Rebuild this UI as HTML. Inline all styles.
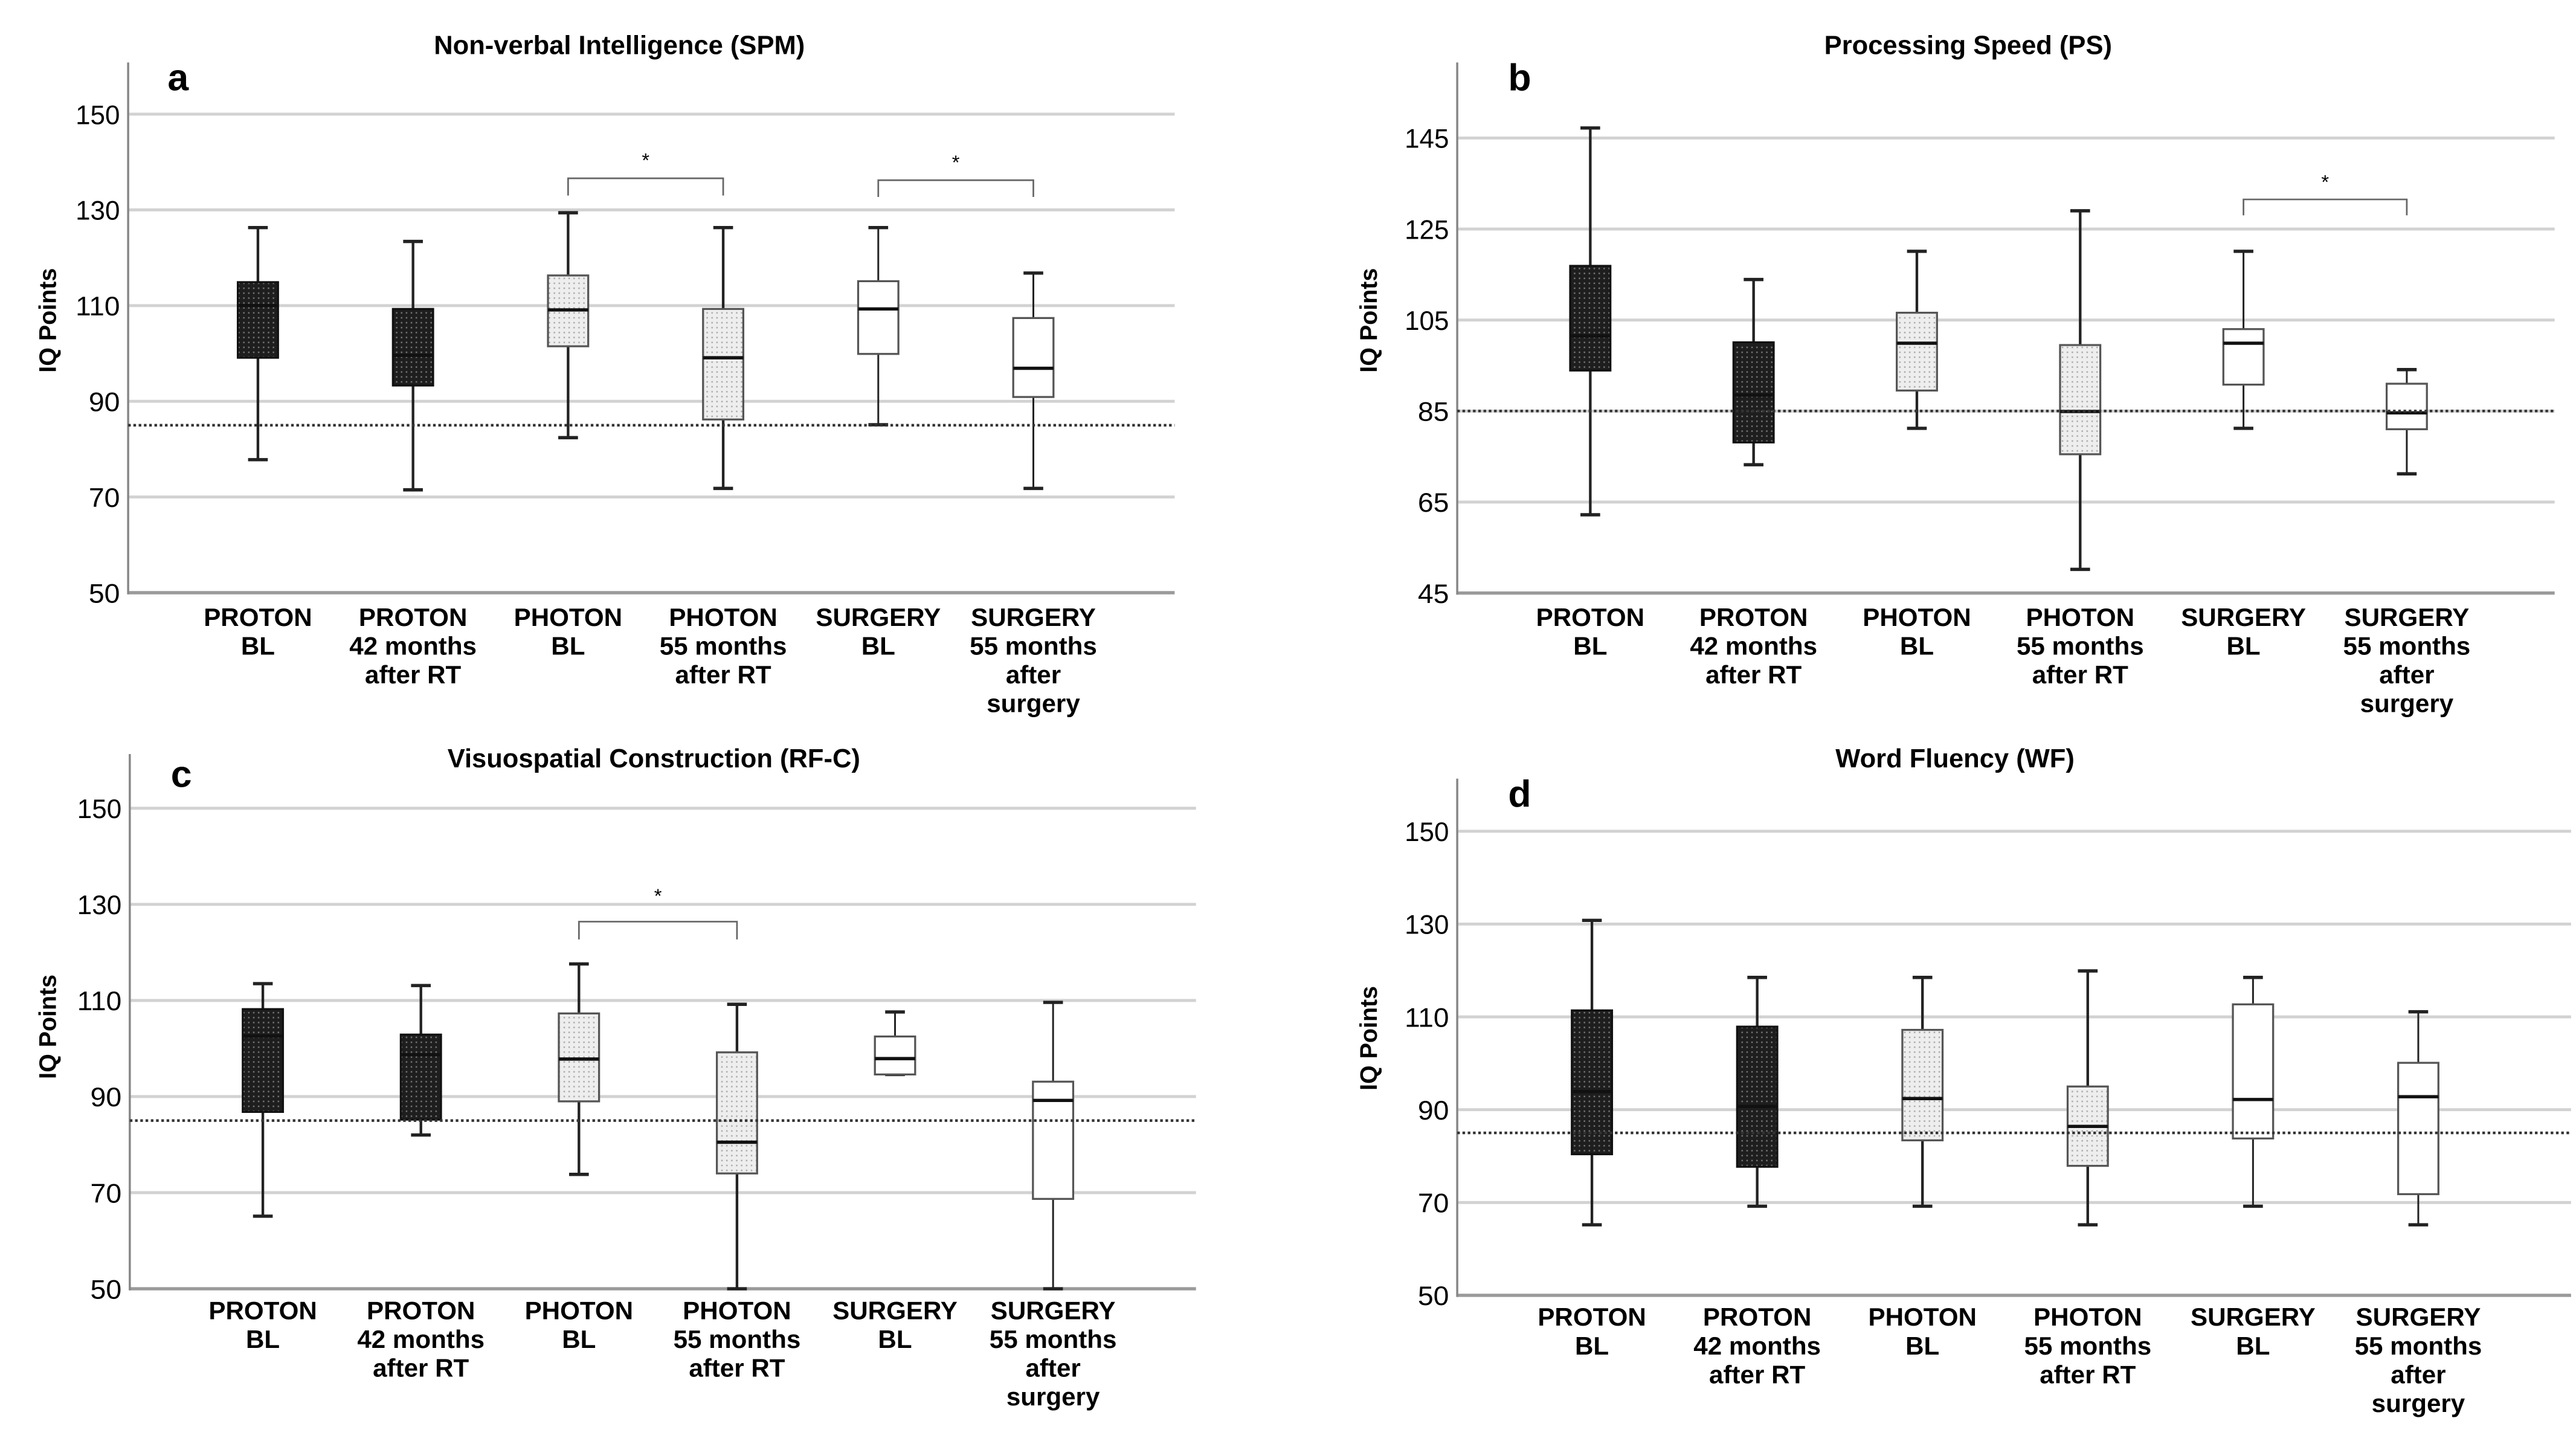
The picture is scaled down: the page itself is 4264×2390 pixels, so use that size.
<!DOCTYPE html>
<html><head><meta charset="utf-8">
<style>
html,body{margin:0;padding:0;background:#fff;}
svg{display:block;}
text{font-family:"Liberation Sans",Arial,sans-serif;fill:#000;}
</style></head>
<body>
<svg id="fig" xmlns="http://www.w3.org/2000/svg" width="4264" height="2390" viewBox="0 0 1568 879" preserveAspectRatio="none">
<defs>
<pattern id="pdark" width="3" height="3" patternUnits="userSpaceOnUse">
<rect width="3" height="3" fill="#1e1e1e"/><rect x="1" y="1" width="0.9" height="0.9" fill="#777"/>
</pattern>
<pattern id="plight" width="3" height="3" patternUnits="userSpaceOnUse">
<rect width="3" height="3" fill="#eeeeee"/><rect x="1" y="1" width="0.9" height="0.9" fill="#a8a8a8"/>
</pattern>
</defs>
</svg>
<script>
// ---------- data ----------
const categories = [["PROTON","BL"],["PROTON","42 months","after RT"],["PHOTON","BL"],["PHOTON","55 months","after RT"],["SURGERY","BL"],["SURGERY","55 months","after","surgery"]];
const groupFill = ["dark","dark","light","light","white","white"];

const spmLow  = [77.8, 71.5, 82.4, 71.8, 85.1, 71.8];
const spmQ1   = [99.1, 93.3, 101.5, 86.2, 99.9, 90.9];
const spmMed  = [110.0, 99.6, 109.1, 99.1, 109.3, 96.9];
const spmQ3   = [114.9, 109.3, 116.3, 109.3, 115.1, 107.4];
const spmHigh = [126.3, 123.4, 129.4, 126.3, 126.3, 116.8];
const spmTicks = [50, 70, 90, 110, 130, 150];

const psLow  = [62.2, 73.2, 81.2, 50.2, 81.2, 71.2];
const psQ1   = [93.9, 78.1, 89.5, 75.5, 90.8, 81.0];
const psMed  = [101.5, 88.5, 99.9, 84.9, 99.9, 84.6];
const psQ3   = [116.9, 100.1, 106.6, 99.5, 103.0, 91.0];
const psHigh = [147.2, 113.9, 120.1, 129.0, 120.1, 94.1];
const psTicks = [45, 65, 85, 105, 125, 145];

const rfLow  = [65.1, 82.0, 73.8, 50.0, 94.6, 50.0];
const rfQ1   = [86.8, 85.2, 89.0, 74.0, 94.6, 68.7];
const rfMed  = [102.6, 98.7, 97.8, 80.5, 97.9, 89.2];
const rfQ3   = [108.2, 102.9, 107.3, 99.2, 102.5, 93.1];
const rfHigh = [113.5, 113.1, 117.6, 109.2, 107.6, 109.6];
const rfTicks = [50, 70, 90, 110, 130, 150];

const wfLow  = [65.2, 69.2, 69.2, 65.2, 69.2, 65.2];
const wfQ1   = [80.4, 77.7, 83.4, 77.9, 83.8, 71.8];
const wfMed  = [93.9, 90.7, 92.4, 86.4, 92.2, 92.8];
const wfQ3   = [111.4, 107.9, 107.2, 95.0, 112.7, 100.1];
const wfHigh = [130.8, 118.5, 118.5, 119.9, 118.5, 111.1];
const wfTicks = [50, 70, 90, 110, 130, 150];

const refLine = 85;
// significance brackets: [from index, to index, top value, drop value, star value]
const spmSig = [[2,3,136.6,133.0,140.3],[4,5,136.2,132.7,139.9]];
const psSig  = [[4,5,131.5,128.0,135.3]];
const rfSig  = [[2,3,126.4,122.7,131.7]];
const wfSig  = [];

// ---------- layout ----------
const NS = "http://www.w3.org/2000/svg";
const svg = document.getElementById("fig");
function mk(tag, attrs, parent){
  const e = document.createElementNS(NS, tag);
  for (const k in attrs) e.setAttribute(k, attrs[k]);
  (parent||svg).appendChild(e);
  return e;
}

const panels = [
 {key:"spm", letter:"a", title:"Non-verbal Intelligence (SPM)", titleX:377, titleY:33, letterX:102, letterY:55,
  axisX:78, axisTop:38, xEnd:715, yBot:360.8, yTop:69.5, vMin:50, vMax:150, c0:157, dc:94.4,
  low:spmLow,q1:spmQ1,med:spmMed,q3:spmQ3,high:spmHigh,ticks:spmTicks,sig:spmSig, yTitleX:34, yTitleY:195, labY:381},
 {key:"ps", letter:"b", title:"Processing Speed (PS)", titleX:1198, titleY:33, letterX:918, letterY:55,
  axisX:887, axisTop:38, xEnd:1555, yBot:361, yTop:84, vMin:45, vMax:145, c0:968, dc:99.4,
  low:psLow,q1:psQ1,med:psMed,q3:psQ3,high:psHigh,ticks:psTicks,sig:psSig, yTitleX:838, yTitleY:195, labY:381},
 {key:"rf", letter:"c", title:"Visuospatial Construction (RF-C)", titleX:398, titleY:467, letterX:104, letterY:479,
  axisX:79, axisTop:459, xEnd:728, yBot:784.5, yTop:492, vMin:50, vMax:150, c0:160, dc:96.2,
  low:rfLow,q1:rfQ1,med:rfMed,q3:rfQ3,high:rfHigh,ticks:rfTicks,sig:rfSig, yTitleX:34, yTitleY:625, labY:803},
 {key:"wf", letter:"d", title:"Word Fluency (WF)", titleX:1190, titleY:467, letterX:918, letterY:491,
  axisX:887, axisTop:474, xEnd:1565, yBot:788.5, yTop:506, vMin:50, vMax:150, c0:969, dc:100.6,
  low:wfLow,q1:wfQ1,med:wfMed,q3:wfQ3,high:wfHigh,ticks:wfTicks,sig:wfSig, yTitleX:838, yTitleY:632, labY:807}
];

panels.forEach(p=>{
  const g = mk("g",{});
  
  
  const y = v => p.yBot - (v - p.vMin) * (p.yBot - p.yTop) / (p.vMax - p.vMin);
  const x = i => p.c0 + i * p.dc;

  p.ticks.forEach((t,i)=>{
    const gl = mk("line",{x1:p.axisX,x2:p.xEnd,y1:y(t),y2:y(t),stroke:i===0?"#9a9a9a":"#d2d2d2","stroke-width":i===0?2:1.8},g);
    
    
    const tl = mk("text",{x:p.axisX-5,y:y(t)+6,"text-anchor":"end","font-size":16.5,textLength:19+(t>=100?8:0),lengthAdjust:"spacingAndGlyphs"},g);
    tl.textContent = t;
    
    
  });
  const ax = mk("line",{x1:p.axisX,x2:p.axisX,y1:p.axisTop,y2:p.yBot+1,stroke:"#888","stroke-width":1.3},g);
  
  

  p.low.forEach((_,i)=>{
    const cx = x(i), w = 24.5, cw = 12;
    const bg = mk("g",{},g);
    
    
    const wsk = groupFill[i]==="white" ? 1.1 : 1.6;
    mk("line",{x1:cx,x2:cx,y1:y(p.high[i]),y2:y(p.q3[i]),stroke:"#222","stroke-width":wsk},bg);
    mk("line",{x1:cx,x2:cx,y1:y(p.q1[i]),y2:y(p.low[i]),stroke:"#222","stroke-width":wsk},bg);
    mk("line",{x1:cx-cw/2,x2:cx+cw/2,y1:y(p.high[i]),y2:y(p.high[i]),stroke:"#222","stroke-width":2},bg);
    mk("line",{x1:cx-cw/2,x2:cx+cw/2,y1:y(p.low[i]),y2:y(p.low[i]),stroke:"#222","stroke-width":2},bg);
    const f = groupFill[i]==="dark"?"url(#pdark)":groupFill[i]==="light"?"url(#plight)":"#fff";
    mk("rect",{x:cx-w/2,y:y(p.q3[i]),width:w,height:y(p.q1[i])-y(p.q3[i]),fill:f,stroke:groupFill[i]==="dark"?"#111":"#555","stroke-width":1.2},bg);
    mk("line",{x1:cx-w/2,x2:cx+w/2,y1:y(p.med[i]),y2:y(p.med[i]),stroke:"#111","stroke-width":2},bg);
  });

  const rl = mk("line",{x1:p.axisX,x2:p.xEnd,y1:y(refLine),y2:y(refLine),stroke:"#333","stroke-width":1.6,"stroke-dasharray":"1.6 1.6"},g);
  
  

  p.sig.forEach(s=>{
    const sg = mk("g",{},g);
    
    
    mk("path",{d:`M${x(s[0])} ${y(s[3])} V${y(s[2])} H${x(s[1])} V${y(s[3])}`,fill:"none",stroke:"#666","stroke-width":1},sg);
    const st = mk("text",{x:(x(s[0])+x(s[1]))/2,y:y(s[4])+4,"text-anchor":"middle","font-size":12},sg);
    st.textContent = "*";
  });

  categories.forEach((lines,i)=>{
    const t = mk("text",{x:x(i),y:p.labY,"text-anchor":"middle","font-size":15.5,"font-weight":"bold"},g);
    
    
    lines.forEach((ln,j)=>{
      const ts = mk("tspan",{x:x(i),dy:j===0?0:17.5},t);
      ts.textContent = ln;
    });
  });

  const tt = mk("text",{x:p.titleX,y:p.titleY,"text-anchor":"middle","font-size":16,"font-weight":"bold"},g);
  tt.textContent = p.title;
  
  
  const lt = mk("text",{x:p.letterX,y:p.letterY,"font-size":23,"font-weight":"bold"},g);
  lt.textContent = p.letter;
  
  
  const yt = mk("text",{x:p.yTitleX,y:p.yTitleY,"text-anchor":"middle","font-size":14.5,"font-weight":"bold",transform:`rotate(-90 ${p.yTitleX} ${p.yTitleY})`},g);
  yt.textContent = "IQ Points";
  
  
});
</script>
</body></html>
